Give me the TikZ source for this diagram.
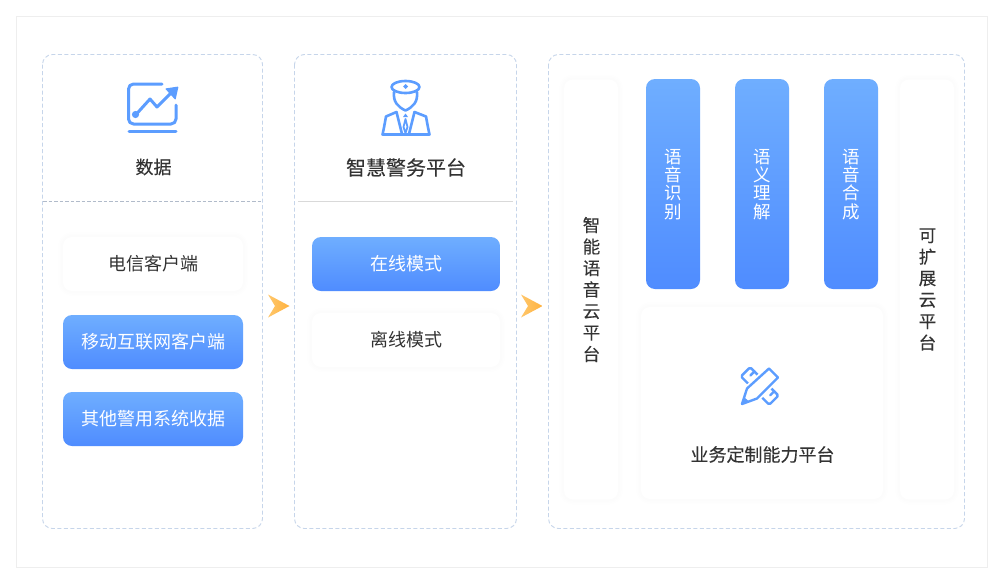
\documentclass[tikz,border=0pt]{standalone}
\usepackage{fontspec}
\setmainfont{Noto Sans CJK SC}
\newfontfamily\heavycjk[FakeBold=0.2]{Noto Sans CJK SC}
\definecolor{dashc}{HTML}{C6D5EA}
\definecolor{framec}{HTML}{EEEEEE}
\definecolor{gtop}{HTML}{6FAEFF}
\definecolor{gbot}{HTML}{4F8CFF}
\definecolor{txt}{HTML}{333333}
\definecolor{iconc}{HTML}{5C9DFF}
\definecolor{argl}{HTML}{FFC76B}
\definecolor{argr}{HTML}{FFB23E}
\tikzset{
  x=1pt,y=-1pt,
  panelbox/.style={draw=dashc,line width=.9pt,dash pattern=on 4pt off 2.5pt,rounded corners=10pt},
  softbox/.style={rectangle,rounded corners=9pt,fill=white,text=txt,
    preaction={draw=black,opacity=.003,line width=10pt},
    preaction={draw=black,opacity=.003,line width=7pt},
    preaction={draw=black,opacity=.003,line width=4pt}},
  bluebox/.style={rectangle,rounded corners=9pt,top color=gtop,bottom color=gbot,text=white},
  fsize/.style={font=\fontsize{18}{21}\selectfont},
  wh/.style 2 args={minimum width=#1,minimum height=#2,inner sep=0pt},
  iconl/.style={draw=iconc,line width=3pt,line cap=round,line join=round,fill=none},
  iconm/.style={draw=iconc,line width=2.4pt,line cap=round,line join=round,fill=white},
  chev/.style={left color=argl,right color=argr},
}
\begin{document}
\begin{tikzpicture}
\useasboundingbox (0,0) rectangle (1000,584);
\fill[white] (0,0) rectangle (1000,584);
\draw[framec,line width=1pt] (16.5,16.5) rectangle (987.5,567);
% panels
\draw[panelbox] (42.5,54.5) rectangle (262.5,528.5);
\draw[panelbox] (294.5,54.5) rectangle (516.5,528.5);
\draw[panelbox] (548.5,54.5) rectangle (964.5,528.5);
\draw[draw=dashc!70!gray,line width=.8pt,dash pattern=on 3.5pt off 2pt] (43,201.5) -- (262,201.5);
\draw[draw=black!15,line width=.8pt] (298,201.5) -- (513,201.5);
% chart icon
\draw[iconl,rounded corners=5pt] (162,84) -- (128.5,84) -- (128.5,124) -- (176,124) -- (176,105);
\draw[iconl] (129,131) -- (176,131);
\draw[iconl] (136,114.5) -- (150,99) -- (157,107) -- (170,94);
\fill[iconc] (135.5,114.5) circle (3.6);
\fill[iconc,rounded corners=.8pt] (165,88.5) -- (178.5,86.5) -- (175.5,100) -- cycle;
\node[font=\heavycjk\fontsize{18}{21}\selectfont,text=txt,inner sep=0pt] (n1) at (153.5,167) {数据};
% officer icon
\begin{scope}[line width=2.6pt,line cap=round,line join=round]
\draw[iconc] (405.5,87) ellipse [x radius=14,y radius=6];
\draw[iconc] (394,92) .. controls (393,102) and (398,107) .. (405.5,110.5) .. controls (413,107) and (418,102) .. (417,92);
\draw[iconc] (396.5,112) -- (386,116.5) .. controls (385,122) and (384,128) .. (382.5,134.5) -- (429.5,134.5) .. controls (428,128) and (427,122) .. (426,116.5) -- (414.5,112);
\draw[iconc] (396.5,112) -- (402,134);
\draw[iconc] (414.5,112) -- (409,134);
\draw[iconc,line width=1.8pt] (405.5,119) -- (403.5,127) -- (405.5,133) -- (407.5,127) -- cycle;
\end{scope}
\fill[iconc] (405.5,84) -- (408,86.5) -- (405.5,89) -- (403,86.5) -- cycle;
\fill[iconc] (405.5,113.5) -- (408,117) -- (403,117) -- cycle;
\node[font=\heavycjk\fontsize{20}{24}\selectfont,text=txt,inner sep=0pt] (n2) at (406,167.5) {智慧警务平台};
% left column
\node[softbox,fsize,wh={180pt}{54pt}] (a1) at (153,264) {电信客户端};
\node[bluebox,fsize,wh={180pt}{54pt}] (a2) at (153,342) {移动互联网客户端};
\node[bluebox,fsize,wh={180pt}{54pt}] (a3) at (153,419) {其他警用系统收据};
% middle column
\node[bluebox,fsize,wh={188pt}{54pt}] (b1) at (406,264) {在线模式};
\node[softbox,fsize,wh={188pt}{54pt}] (b2) at (406,340) {离线模式};
% arrows
\shade[chev] (268,294.5) -- (289.5,306) -- (268,317.5) -- (275,306) -- cycle;
\shade[chev] (521,294.5) -- (542.5,306) -- (521,317.5) -- (528,306) -- cycle;
% right panel
\node[softbox,wh={54pt}{420pt}] (c1) at (591,289.5) {};
\node[text=txt,align=center,inner sep=0pt,font=\heavycjk\fontsize{17.5}{21.5}\selectfont] (c1t) at (591.5,289.5) {智\\能\\语\\音\\云\\平\\台};
\node[bluebox,wh={54pt}{210pt}] (d1) at (673,184) {};
\node[text=white,align=center,inner sep=0pt,font=\fontsize{17.5}{18.2}\selectfont] (d1t) at (673,184.5) {语\\音\\识\\别};
\node[bluebox,wh={54pt}{210pt}] (d2) at (762,184) {};
\node[text=white,align=center,inner sep=0pt,font=\fontsize{17.5}{18.2}\selectfont] (d2t) at (762,184.5) {语\\义\\理\\解};
\node[bluebox,wh={54pt}{210pt}] (d3) at (851,184) {};
\node[text=white,align=center,inner sep=0pt,font=\fontsize{17.5}{18.2}\selectfont] (d3t) at (851,184.5) {语\\音\\合\\成};
\node[softbox,wh={54pt}{420pt}] (e1) at (927,289.5) {};
\node[text=txt,align=center,inner sep=0pt,font=\heavycjk\fontsize{17.5}{21.5}\selectfont] (e1t) at (927.5,289.5) {可\\扩\\展\\云\\平\\台};
\node[softbox,wh={242pt}{192pt}] (f1) at (762,403) {};
% pencil / ruler icon
\begin{scope}[shift={(759.7,386)},rotate=-45]
\draw[iconm,rounded corners=1.5pt] (-20,-6.5) rectangle (20,6.5);
\draw[iconm] (-14,-6.5) -- (-14,-1);
\draw[iconm] (14,-6.5) -- (14,-1);
\end{scope}
\draw[draw=white,fill=white,line width=6pt,line join=round] (769,368.5) -- (778,377.5) -- (757,398.5) -- (742,404) -- (747,388.5) -- cycle;
\draw[iconm] (769,368.5) -- (778,377.5) -- (757,398.5) -- (742,404) -- (747,388.5) -- cycle;
\fill[iconc] (742,404) -- (744,397) -- (749,401.5) -- cycle;
\node[font=\heavycjk\fontsize{18}{21}\selectfont,text=txt,inner sep=0pt] (f1t) at (762.5,454.5) {业务定制能力平台};
\end{tikzpicture}
\end{document}
